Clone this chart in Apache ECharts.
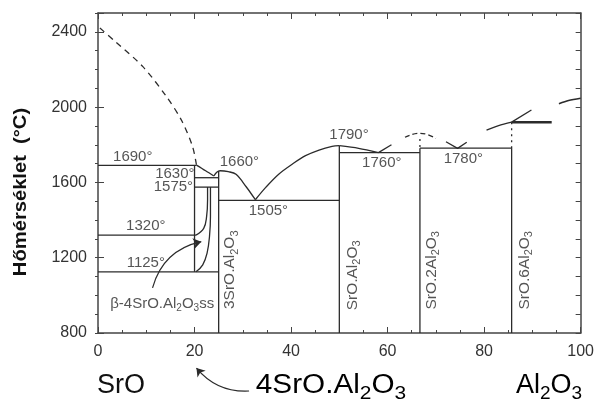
<!DOCTYPE html>
<html lang="hu">
<head>
<meta charset="UTF-8">
<title>SrO - Al2O3 fázisdiagram</title>
<script src="https://cdn.jsdelivr.net/npm/echarts@6/dist/echarts.min.js"></script>
<style>
    html, body { margin: 0; padding: 0; background: #fff; }
    #chart { width: 597px; height: 400px; }
</style>
</head>
<body>
<div id="chart"></div>
<script>
    // tengelyek
    var xMin = 0, xMax = 100, xStep = 20;
    var yMin = 800, yMax = 2500, yStep = 400;
    var yLabels = [800, 1200, 1600, 2000, 2400];

    // likvidusz görbék [mol% Al2O3, °C]
    var liqSrO  = [[0.4,2420],[3.5,2350],[9.3,2215],[14.2,2055],[17.3,1930],[19.6,1790],[20.4,1692]];
    var liq4SA  = [[20.4,1692],[22.3,1662],[24,1634]];
    var liq3SA  = [[24,1634],[24.6,1654],[25.3,1662],[27,1657],[28.6,1643],[30.7,1577],[32.6,1508]];
    var liqSA   = [[32.6,1508],[34.8,1575],[37.5,1645],[40.3,1698],[43,1742],[45.8,1772],[48.5,1791],[50,1795]];
    var liqSA2  = [[50,1795],[54,1781],[58.1,1758]];
    var liqS2A  = [[58.1,1758],[60.8,1800]];
    var arcS2A  = [[63.6,1840],[66.7,1861],[70,1834]];
    var vS2A    = [[72.1,1816],[74.5,1781],[76.4,1813]];
    var liqS6A  = [[80.5,1878],[83,1902],[85.7,1920]];
    var liqS6A2 = [[85.7,1920],[89.8,1985]];
    var liqAl   = [[95.5,2018],[97.5,2035],[100,2047]];

    // szilárd oldat határai
    var solvus1 = [[22.7,1575],[22.7,1506],[22.5,1418],[21.9,1356],[20.3,1320]];
    var solvus2 = [[23.3,1575],[23.3,1418],[23.1,1313],[22.6,1224],[21.7,1162],[20.3,1125]];

    // egyenes vonalak
    var tieLines = [
        [[0,1690],[20.4,1690]],
        [[20,1690],[20,1125]],
        [[20,1625],[25,1625]],
        [[20,1575],[25,1575]],
        [[0,1320],[20.3,1320]],
        [[0,1125],[25,1125]],
        [[25,800],[25,1660]],
        [[25,1505],[50,1505]],
        [[50,800],[50,1795]],
        [[50,1758],[66.7,1758]],
        [[66.7,800],[66.7,1782]],
        [[66.7,1782],[85.7,1782]],
        [[85.7,800],[85.7,1782]]
    ];
    var dottedLines = [
        [[66.7,1830],[66.7,1782]],
        [[85.7,1920],[85.7,1782]]
    ];
    var s6aTop = [[85.7,1920],[94,1920]];

    // nyilak
    var arrowBeta = [[11.3,1040],[21.4,1285]];
    var arrow4SA  = [[31.3,492],[20.4,614]];

    // feliratok
    var tempLabels = [
        ['1690°', 7.2, 1736, 'center'],
        ['1630°', 20, 1646, 'right'],
        ['1575°', 19.7, 1577, 'right'],
        ['1660°', 29.3, 1710, 'center'],
        ['1320°', 9.9, 1370, 'center'],
        ['1125°', 9.9, 1172, 'center'],
        ['1505°', 35.3, 1449, 'center'],
        ['1790°', 52, 1853, 'center'],
        ['1760°', 58.8, 1706, 'center'],
        ['1780°', 75.7, 1724, 'center']
    ];
    var phaseLabels = [
        ['3SrO.Al_2O_3', 27.6, 1136],
        ['SrO.Al_2O_3', 53, 1106],
        ['SrO.2Al_2O_3', 69.3, 1133],
        ['SrO.6Al_2O_3', 88.6, 1133]
    ];
    var betaLabel = ['β-4SrO.Al_2O_3ss', 13.3, 950];

    var FONT = '"Liberation Sans", Arial, Helvetica, sans-serif';
    var INK = '#2b2b2b';

    // "Al_2O_3" -> rich szöveg alsó indexszel
    function rich(str) {
        return '{t|' + str.replace(/_(\d)/g, '}{s|$1}{t|') + '}';
    }
    // d: mennyivel kerül lejjebb az index
    function richStyle(size, subSize, d, color) {
        return {
            t: { fontSize: size, fontFamily: FONT, color: color || INK, lineHeight: size, verticalAlign: 'top' },
            s: { fontSize: subSize, fontFamily: FONT, color: color || INK,
                 lineHeight: d + subSize / 2 + size / 2, verticalAlign: 'bottom' }
        };
    }

    function curve(data, opts) {
        opts = opts || {};
        return {
            type: 'line',
            data: data,
            symbol: 'none',
            smooth: opts.smooth || false,
            silent: true,
            clip: false,
            lineStyle: { color: INK, width: opts.width || 1.3, type: opts.type || 'solid' },
            z: 3
        };
    }

    var series = [];
    series.push(curve(liqSrO, { smooth: 0.3, type: [6, 5] }));
    series.push(curve(liq4SA, { smooth: 0.3 }));
    series.push(curve(liq3SA, { smooth: 0.35 }));
    series.push(curve(liqSA, { smooth: 0.35 }));
    series.push(curve(liqSA2, { smooth: 0.3 }));
    series.push(curve(liqS2A));
    series.push(curve(arcS2A, { smooth: 0.5, type: [5, 3] }));
    series.push(curve(vS2A));
    series.push(curve(liqS6A, { smooth: 0.3 }));
    series.push(curve(liqS6A2, { smooth: 0.3 }));
    series.push(curve(liqAl, { smooth: 0.3, width: 1.6 }));
    series.push(curve(solvus1, { smooth: 0.4 }));
    series.push(curve(solvus2, { smooth: 0.4 }));
    tieLines.forEach(function (l) { series.push(curve(l)); });
    dottedLines.forEach(function (l) { series.push(curve(l, { type: [2, 4] })); });
    series.push(curve(s6aTop, { width: 2.4 }));

    series.push({
        type: 'lines',
        coordinateSystem: 'cartesian2d',
        silent: true,
        clip: false,
        symbol: ['none', 'arrow'],
        symbolSize: 8,
        lineStyle: { color: INK, width: 1.2, opacity: 1 },
        data: [
            { coords: arrowBeta, lineStyle: { curveness: 0.3 } },
            { coords: arrow4SA, lineStyle: { curveness: 0.25 } }
        ]
    });

    var labelData = [];
    tempLabels.forEach(function (d) {
        labelData.push({
            value: [d[1], d[2]],
            label: { formatter: d[0], align: d[3], fontSize: 15 }
        });
    });
    phaseLabels.forEach(function (d) {
        labelData.push({
            value: [d[1], d[2]],
            label: { formatter: rich(d[0]), rotate: 90, rich: richStyle(15.5, 11, 5) }
        });
    });
    labelData.push({
        value: [betaLabel[1], betaLabel[2]],
        label: { formatter: rich(betaLabel[0]), rich: richStyle(15, 10, 5) }
    });
    series.push({
        type: 'scatter',
        symbolSize: 0,
        silent: true,
        data: labelData,
        label: { show: true, position: 'inside', color: INK, fontFamily: FONT },
        z: 5
    });

    var axisLine = { show: true, lineStyle: { color: '#444', width: 1.5 } };
    var tickStyle = { color: '#444' };

    var myChart = echarts.init(document.getElementById('chart'));
    var option = {
        animation: false,
        grid: { left: 98, right: 14, top: 13, bottom: 67 },
        xAxis: [{
            type: 'value', min: xMin, max: xMax, interval: xStep,
            axisLine: axisLine,
            axisTick: { inside: true, length: 6, lineStyle: tickStyle },
            minorTick: { show: true, splitNumber: 4, length: 3, lineStyle: tickStyle },
            axisLabel: { fontSize: 16, color: '#333', margin: 11, fontFamily: FONT },
            splitLine: { show: false }
        }, {
            type: 'value', position: 'top', min: xMin, max: xMax, interval: xStep,
            axisLine: axisLine,
            axisTick: { inside: true, length: 6, lineStyle: tickStyle },
            minorTick: { show: true, splitNumber: 4, length: 3, lineStyle: tickStyle },
            axisLabel: { show: false },
            splitLine: { show: false }
        }],
        yAxis: [{
            type: 'value', min: yMin, max: yMax, interval: yStep,
            axisLine: axisLine,
            axisTick: { inside: true, length: 6, lineStyle: tickStyle },
            axisLabel: {
                fontSize: 16, color: '#333', margin: 11, fontFamily: FONT,
                formatter: function (v) { return yLabels.indexOf(v) >= 0 ? v : ''; }
            },
            splitLine: { show: false }
        }, {
            type: 'value', min: yMin, max: yMax, interval: 100,
            axisLine: { show: false },
            axisTick: { inside: true, length: 3, lineStyle: tickStyle },
            axisLabel: { show: false },
            splitLine: { show: false }
        }, {
            type: 'value', position: 'right', min: yMin, max: yMax, interval: 100,
            axisLine: axisLine,
            axisTick: { inside: true, length: 5, lineStyle: tickStyle },
            axisLabel: { show: false },
            splitLine: { show: false }
        }],
        graphic: [{
            type: 'text', x: 21, y: 192, rotation: Math.PI / 2, scaleX: 1.12,
            style: {
                text: 'Hőmérséklet  (°C)', font: 'bold 18px ' + FONT, fill: '#111',
                align: 'center', verticalAlign: 'middle', textAlign: 'center', textVerticalAlign: 'middle'
            }
        }, {
            type: 'text', x: 121, y: 386,
            style: {
                text: 'SrO', font: '27px ' + FONT, fill: '#111',
                align: 'center', verticalAlign: 'middle', textAlign: 'center', textVerticalAlign: 'middle'
            }
        }, {
            type: 'text', x: 331, y: 388, scaleX: 1.1,
            style: {
                text: rich('4SrO.Al_2O_3'), rich: richStyle(27, 19, 8, '#111'),
                align: 'center', verticalAlign: 'middle', textAlign: 'center', textVerticalAlign: 'middle'
            }
        }, {
            type: 'text', x: 549, y: 388,
            style: {
                text: rich('Al_2O_3'), rich: richStyle(27, 19, 8, '#111'),
                align: 'center', verticalAlign: 'middle', textAlign: 'center', textVerticalAlign: 'middle'
            }
        }],
        series: series
    };
    myChart.setOption(option);
</script>
</body>
</html>
